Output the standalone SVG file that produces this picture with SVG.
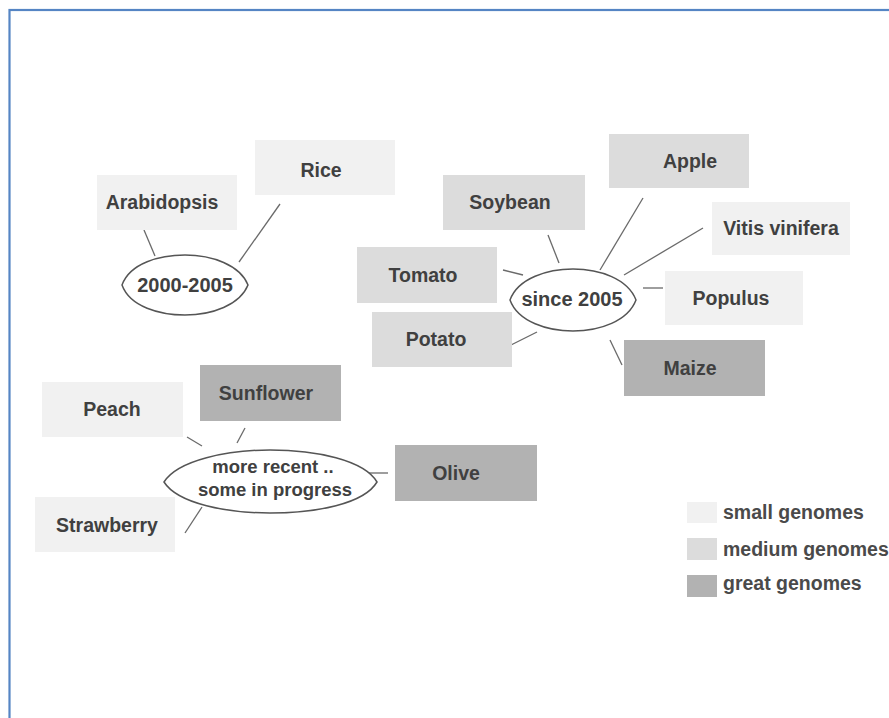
<svg xmlns="http://www.w3.org/2000/svg" width="889" height="718" viewBox="0 0 889 718">
<style>
.frame{fill:none;stroke:#5585c4;stroke-width:2.2}
.small{fill:#f1f1f1}
.medium{fill:#dcdcdc}
.great{fill:#b2b2b2}
.lbl{font-family:"Liberation Sans",Arial,sans-serif;font-weight:bold;font-size:19.5px;fill:#404040;text-anchor:middle}
.hub{fill:#ffffff;stroke:#555555;stroke-width:1.5}
.hubt{font-family:"Liberation Sans",Arial,sans-serif;font-weight:bold;font-size:20px;fill:#404040;text-anchor:middle}
.hubt2{font-family:"Liberation Sans",Arial,sans-serif;font-weight:bold;font-size:18.5px;fill:#404040;text-anchor:middle}
.leg{font-family:"Liberation Sans",Arial,sans-serif;font-weight:bold;font-size:19.5px;fill:#4a4a4a}
#connectors line{stroke:#6a6a6a;stroke-width:1.3}
</style>
<rect width="889" height="718" fill="#ffffff"/>
<rect class="frame" x="9.5" y="10" width="900" height="740"/>

<g id="connectors">
<line x1="144" y1="230" x2="155" y2="256"/>
<line x1="280" y1="204" x2="239" y2="262"/>
<line x1="548" y1="235" x2="559" y2="263"/>
<line x1="503" y1="270" x2="523" y2="275"/>
<line x1="509" y1="346" x2="537" y2="332"/>
<line x1="643" y1="198" x2="600" y2="270"/>
<line x1="703" y1="228" x2="624" y2="275"/>
<line x1="643" y1="288" x2="663" y2="288"/>
<line x1="610" y1="340" x2="622" y2="365"/>
<line x1="187" y1="437" x2="202" y2="446"/>
<line x1="245" y1="428" x2="237" y2="443"/>
<line x1="202" y1="507" x2="185" y2="533"/>
<line x1="368" y1="473" x2="388" y2="473"/>
</g>

<g id="hub-2000-2005">
<path class="hub" d="M122,285 C130,263 160,255 185,255 C212,255 240,265 248,285 C240,305 212,315 185,315 C160,315 130,307 122,285 Z"/>
<text class="hubt" x="185" y="292">2000-2005</text>
</g>
<g id="hub-since-2005">
<path class="hub" d="M510,300 C518,278 548,269 573,269 C600,269 628,279 636,300 C628,321 600,331 573,331 C548,331 518,322 510,300 Z"/>
<text class="hubt" x="572" y="306">since 2005</text>
</g>
<g id="hub-recent">
<path class="hub" d="M164,482 C178,460 228,450 270,450 C316,450 364,460 377,482 C364,504 316,513 270,513 C228,513 178,504 164,482 Z"/>
<text class="hubt2" x="273" y="473">more recent ..</text>
<text class="hubt2" x="275" y="496">some in progress</text>
</g>

<g id="arabidopsis"><rect class="small" x="97" y="175" width="140" height="55"/><text class="lbl" x="162" y="209">Arabidopsis</text></g>
<g id="rice"><rect class="small" x="255" y="140" width="140" height="55"/><text class="lbl" x="321" y="177">Rice</text></g>
<g id="soybean"><rect class="medium" x="443" y="175" width="142" height="55"/><text class="lbl" x="510" y="209">Soybean</text></g>
<g id="tomato"><rect class="medium" x="357" y="247" width="140" height="56"/><text class="lbl" x="423" y="282">Tomato</text></g>
<g id="potato"><rect class="medium" x="372" y="312" width="140" height="55"/><text class="lbl" x="436" y="346">Potato</text></g>
<g id="apple"><rect class="medium" x="609" y="134" width="140" height="54"/><text class="lbl" x="690" y="168">Apple</text></g>
<g id="vitis"><rect class="small" x="712" y="202" width="138" height="53"/><text class="lbl" x="781" y="235">Vitis vinifera</text></g>
<g id="populus"><rect class="small" x="665" y="271" width="138" height="54"/><text class="lbl" x="731" y="305">Populus</text></g>
<g id="maize"><rect class="great" x="624" y="340" width="141" height="56"/><text class="lbl" x="690" y="375">Maize</text></g>
<g id="peach"><rect class="small" x="42" y="382" width="141" height="55"/><text class="lbl" x="112" y="416">Peach</text></g>
<g id="sunflower"><rect class="great" x="200" y="365" width="141" height="56"/><text class="lbl" x="266" y="400">Sunflower</text></g>
<g id="strawberry"><rect class="small" x="35" y="497" width="140" height="55"/><text class="lbl" x="107" y="532">Strawberry</text></g>
<g id="olive"><rect class="great" x="395" y="445" width="142" height="56"/><text class="lbl" x="456" y="480">Olive</text></g>

<g id="legend">
<rect class="small" x="687" y="502" width="30" height="21"/>
<text class="leg" x="723" y="519">small genomes</text>
<rect class="medium" x="687" y="538" width="30" height="22"/>
<text class="leg" x="723" y="556">medium genomes</text>
<rect class="great" x="687" y="575" width="30" height="22"/>
<text class="leg" x="723" y="590">great genomes</text>
</g>
</svg>
